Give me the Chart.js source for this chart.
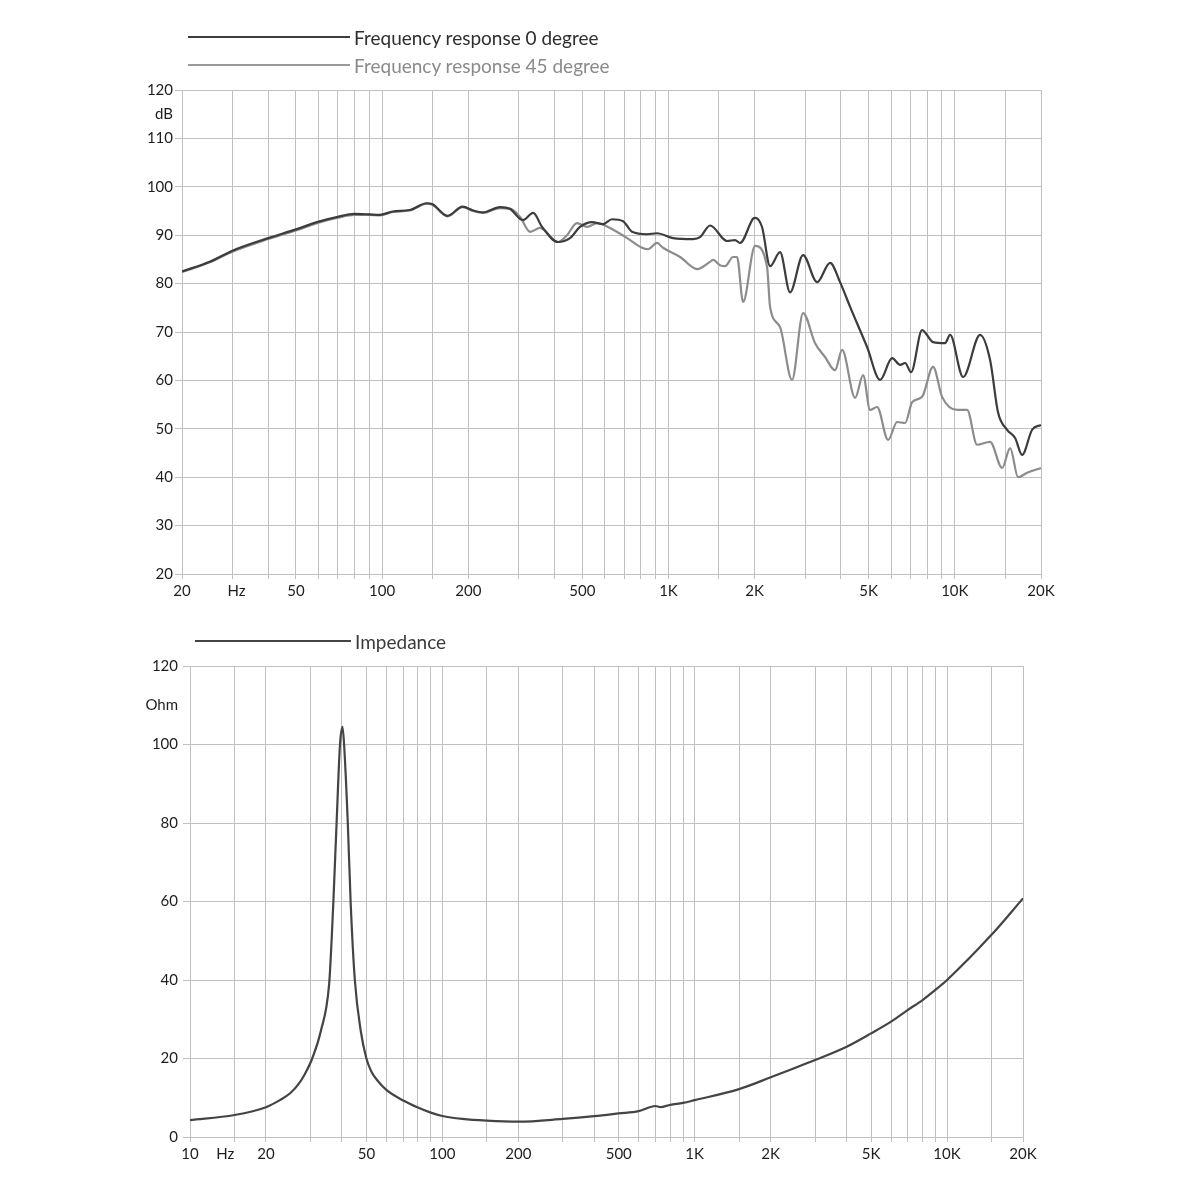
<!DOCTYPE html>
<html>
<head>
<meta charset="utf-8">
<script src="https://cdn.jsdelivr.net/npm/chart.js@4.4.1/dist/chart.umd.min.js"></script>
<style>
  body{margin:0;background:#fff;font-family:Lato,sans-serif}
  #wrap{position:relative;width:1200px;height:1200px;overflow:hidden}
  canvas{position:absolute;left:0}
  .key{position:absolute;left:188px;height:24px;display:flex;align-items:center;font-size:19px;white-space:nowrap}
  .key span{display:inline-block;width:162px;height:2px;margin-right:4px}
</style>
</head>
<body>
<div id="wrap">
  <canvas id="fr" width="1200" height="610" style="top:0"></canvas>
  <canvas id="imp" width="1200" height="600" style="top:600px"></canvas>
  <div class="key" style="top:25px;color:#2e2e2e"><span style="background:#3c3c3c"></span>Frequency response 0 degree</div>
  <div class="key" style="top:53px;color:#8a8a8a"><span style="background:#9a9a9a"></span>Frequency response 45 degree</div>
  <div class="key" style="top:629px;left:195px;color:#3a3a3a"><span style="background:#444;width:156px"></span>Impedance</div>
</div>
<script>
const fr0Freq = [20,25,30,40,50,60,70,80,90,98,109,125,143,150,169,191,208,225,258,280,310,337,362,411,453,491,541,591,635,694,746,842,912,1038,1219,1289,1397,1602,1708,1778,1974,2006,2122,2264,2453,2658,2952,3304,3668,3974,4309,4939,5483,6040,6443,6706,7038,7685,8398,9247,9628,10690,12256,13282,14170,15232,16244,17180,18618,20000]
const fr0Db = [82.5,84.5,86.8,89.4,91.2,92.8,93.8,94.4,94.3,94.2,94.9,95.2,96.6,96.4,94.0,95.9,95.1,94.7,95.8,95.4,93.1,94.6,91.7,88.6,89.4,91.7,92.7,92.3,93.3,92.9,90.7,90.2,90.4,89.4,89.2,89.6,92.0,88.8,89.0,88.4,93.4,93.6,91.7,83.6,86.5,78.2,85.9,80.3,84.3,80.3,75.2,66.9,60.1,64.6,63.2,63.6,61.7,70.4,67.9,67.7,69.4,60.7,69.4,64.2,53.3,49.8,48.1,44.6,49.8,50.8]

const fr45Freq = [20,25,30,40,50,60,70,80,90,98,109,125,143,150,169,191,208,225,258,280,303,329,356,411,442,479,520,563,625,717,809,849,912,957,1098,1259,1397,1431,1514,1576,1681,1736,1822,2006,2210,2264,2453,2701,2952,3251,3524,3818,4040,4486,4783,5060,5353,5848,6288,6706,7094,7685,8398,9028,10186,11040,11964,13282,14632,15604,16636,17884,20000]
const fr45Db = [82.4,84.4,86.6,89.2,91.0,92.6,93.6,94.2,94.2,94.1,94.8,95.1,96.5,96.3,93.9,95.8,95.0,94.6,95.6,95.5,93.8,90.7,91.5,88.6,90.0,92.5,91.7,92.5,91.5,89.4,87.4,87.1,88.4,87.4,85.5,83.0,84.5,84.9,83.8,83.6,85.5,85.5,76.2,87.8,83.4,75.2,71.0,60.1,73.9,67.7,64.8,62.1,66.3,56.4,61.1,53.9,54.5,47.7,51.4,51.2,55.5,56.6,62.8,56.6,53.9,53.9,46.7,47.3,41.9,46.0,40.0,40.9,41.9]

const impFreq = [10,15,20,22.7,25,27,28.5,30.5,33,35.6,36.4,37,38.1,39.3,40.2,40.8,42.2,43.3,45,47.5,50,52.5,55,60,70,80,90,100,120,150,200,300,400,500,600,700,730,800,900,1000,1500,2000,3000,4000,5000,6000,7000,8000,9000,10000,15000,20000]
const impOhm = [4.3,5.6,7.6,9.4,11.2,13.6,16,20,27,39,50,60,80,100,104.5,100,80,60,40,27,20,16.5,14.6,12,9.3,7.5,6.2,5.35,4.6,4.15,3.9,4.6,5.3,6.0,6.6,7.9,7.6,8.2,8.7,9.4,12.2,15.2,19.6,23,26.4,29.4,32.4,34.9,37.5,40,51.5,60.8]

const frGrid = [20,30,40,50,60,70,80,90,100,150,200,300,400,500,600,700,800,900,1000,1500,2000,3000,4000,5000,6000,7000,8000,9000,10000,15000,20000]
const frLabels = {20:'20',31:'Hz',50:'50',100:'100',200:'200',500:'500',1000:'1K',2000:'2K',5000:'5K',10000:'10K',20000:'20K'}
const impGrid = [10,15,20,30,40,50,60,70,80,90,100,150,200,300,400,500,600,700,800,900,1000,1500,2000,3000,4000,5000,6000,7000,8000,9000,10000,15000,20000]
const impLabels = {10:'10',13.8:'Hz',20:'20',50:'50',100:'100',200:'200',500:'500',1000:'1K',2000:'2K',5000:'5K',10000:'10K',20000:'20K'}
const dbTicks = [20,30,40,50,60,70,80,90,100,110,120]
const ohmTicks = [0,20,40,60,80,100,120]

const gridColor = '#c0c0c0'
const clear = 'rgba(0,0,0,0)'
const tickFont = {family:'Lato', size:15}
const pts = (xs, ys) => xs.map((x, i) => ({x, y: ys[i]}))

const build = (id, datasets, o) => new Chart(document.getElementById(id), {
  type: 'line',
  data: {datasets},
  options: {
    responsive: false,
    animation: false,
    devicePixelRatio: 1,
    layout: {padding: {top: o.top, right: o.right, left: 0, bottom: 0}},
    plugins: {legend: {display: false}, tooltip: {enabled: false}},
    elements: {point: {radius: 0}, line: {borderWidth: 2.2, cubicInterpolationMode: 'monotone'}},
    scales: {
      x: {
        type: 'logarithmic', min: o.xMin, max: o.xMax,
        afterBuildTicks: s => { s.ticks = o.xGrid.concat([o.hz]).map(v => ({value: v})) },
        afterFit: s => { s.height = o.xh },
        grid: {color: c => c.tick && c.tick.value === o.hz ? clear : gridColor, tickLength: 5},
        border: {color: gridColor},
        ticks: {autoSkip: false, maxRotation: 0, padding: 3, color: '#1e1e1e', font: tickFont,
          callback: v => o.xLabels[v] || ''}
      },
      y: {
        min: o.yMin, max: o.yMax,
        afterBuildTicks: s => { s.ticks = o.yTicks.concat([o.unitAt]).map(v => ({value: v})) },
        afterFit: s => { s.width = o.yw },
        grid: {color: c => c.tick && c.tick.value === o.unitAt ? clear : gridColor, tickLength: 7},
        border: {color: gridColor},
        ticks: {padding: o.ypad, color: '#1e1e1e', font: tickFont,
          callback: v => v === o.unitAt ? o.unit : String(v)}
      }
    }
  }
})

build('fr', [
  {label: 'Frequency response 0 degree', data: pts(fr0Freq, fr0Db), borderColor: '#3c3c3c'},
  {label: 'Frequency response 45 degree', data: pts(fr45Freq, fr45Db), borderColor: '#8c8c8c'}
], {top: 90, right: 159, xh: 36, yw: 182, ypad: 2, xMin: 20, xMax: 20000, xGrid: frGrid, xLabels: frLabels, hz: 31,
  yMin: 20, yMax: 120, yTicks: dbTicks, unitAt: 115, unit: 'dB'})

build('imp', [
  {label: 'Impedance', data: pts(impFreq, impOhm), borderColor: '#444'}
], {top: 66, right: 177, xh: 63, yw: 190, ypad: 5, xMin: 10, xMax: 20000, xGrid: impGrid, xLabels: impLabels, hz: 13.8,
  yMin: 0, yMax: 120, yTicks: ohmTicks, unitAt: 110, unit: 'Ohm'})
</script>
</body>
</html>
